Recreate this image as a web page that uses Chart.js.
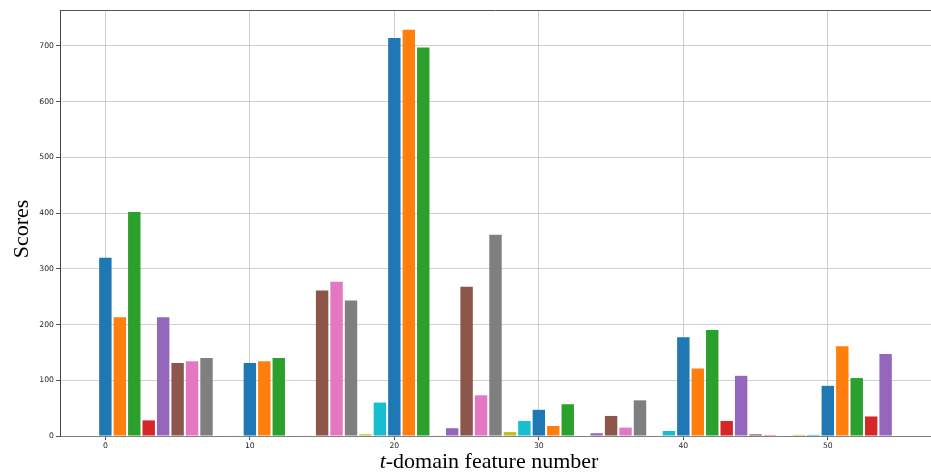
<!DOCTYPE html>
<html>
<head>
<meta charset="utf-8">
<script src="https://cdn.jsdelivr.net/npm/chart.js@4.4.1/dist/chart.umd.min.js"></script>
<style>
  html, body { margin: 0; padding: 0; background: #fff; }
  #wrap { width: 931px; height: 474px; }
</style>
</head>
<body>
<div id="wrap"><canvas id="chart" width="931" height="474"></canvas></div>
<script>
// feature index on the x axis, one bar per feature
const featureIndex = [
  0, 1, 2, 3, 4, 5, 6, 7, 8, 9,
  10, 11, 12, 13, 14, 15, 16, 17, 18, 19,
  20, 21, 22, 23, 24, 25, 26, 27, 28, 29,
  30, 31, 32, 33, 34, 35, 36, 37, 38, 39,
  40, 41, 42, 43, 44, 45, 46, 47, 48, 49,
  50, 51, 52, 53, 54
];
// scores
const scores = [
  320, 213, 402, 28, 213, 131, 134, 140, 0, 1,
  131, 134, 140, 0, 1, 261, 277, 243, 3, 60,
  714, 729, 697, 1, 14, 268, 73, 361, 7, 27,
  47, 18, 57, 0, 5, 36, 15, 64, 1, 9,
  177, 121, 190, 27, 108, 3, 2, 0, 2, 2,
  90, 161, 104, 35, 147
];
const xTicks = [0, 10, 20, 30, 40, 50];
const yTicks = [0, 100, 200, 300, 400, 500, 600, 700];

// matplotlib default colour cycle
const tab10 = ['#1f77b4', '#ff7f0e', '#2ca02c', '#d62728', '#9467bd',
               '#8c564b', '#e377c2', '#7f7f7f', '#bcbd22', '#17becf'];

const tickFont = { family: 'DejaVu Sans', size: 7.7 };
const gridColor = 'rgba(176,176,176,0.6)';

// top spine + axis titles
const decorations = {
  id: 'decorations',
  afterDraw(chart) {
    const { ctx, chartArea } = chart;
    ctx.save();
    ctx.strokeStyle = '#555';
    ctx.lineWidth = 1;
    ctx.beginPath();
    ctx.moveTo(chartArea.left, chartArea.top + 0.5);
    ctx.lineTo(chartArea.right, chartArea.top + 0.5);
    ctx.stroke();

    ctx.fillStyle = '#000';
    ctx.textBaseline = 'alphabetic';
    // x title with italic t
    const serif = '"Liberation Serif", "Times New Roman", serif';
    const it = 'italic 22px ' + serif;
    const up = '22px ' + serif;
    ctx.font = it;
    const w1 = ctx.measureText('t').width;
    ctx.font = up;
    const w2 = ctx.measureText('-domain feature number').width;
    const cx = 489;
    let x0 = cx - (w1 + w2) / 2;
    ctx.textAlign = 'left';
    ctx.font = it;
    ctx.fillText('t', x0, 468);
    ctx.font = up;
    ctx.fillText('-domain feature number', x0 + w1, 468);

    // y title
    ctx.translate(28, 229);
    ctx.rotate(-Math.PI / 2);
    ctx.textAlign = 'center';
    ctx.fillText('Scores', 0, 0);
    ctx.restore();
  }
};

const ctx = document.getElementById('chart').getContext('2d');
new Chart(ctx, {
  type: 'bar',
  data: {
    datasets: [{
      data: featureIndex.map((f, i) => ({ x: f, y: scores[i] })),
      backgroundColor: featureIndex.map(f => tab10[f % 10]),
      borderWidth: 0,
      barPercentage: 0.86,
      categoryPercentage: 1.0
    }]
  },
  options: {
    responsive: false,
    animation: false,
    events: [],
    layout: { padding: { top: 10, left: 0, right: 0, bottom: 0 } },
    plugins: { legend: { display: false }, tooltip: { enabled: false } },
    scales: {
      x: {
        type: 'linear',
        min: -3.14,
        max: 57.14,
        offset: false,
        z: 1,
        afterBuildTicks: scale => { scale.ticks = xTicks.map(v => ({ value: v })); },
        afterFit: scale => { scale.height = 38; },
        ticks: { font: tickFont, color: '#262626', padding: 1, maxRotation: 0 },
        grid: { offset: false, color: gridColor, lineWidth: 1, tickColor: '#555', tickLength: 4 },
        border: { display: true, color: '#808080', width: 1 }
      },
      y: {
        type: 'linear',
        min: 0,
        max: 764.4,
        z: 1,
        afterBuildTicks: scale => { scale.ticks = yTicks.map(v => ({ value: v })); },
        afterFit: scale => { scale.width = 60; },
        ticks: { font: tickFont, color: '#262626', padding: 2 },
        grid: { color: gridColor, lineWidth: 1, tickColor: '#555', tickLength: 4 },
        border: { display: true, color: '#444', width: 1 }
      }
    }
  },
  plugins: [decorations]
});
</script>
</body>
</html>
